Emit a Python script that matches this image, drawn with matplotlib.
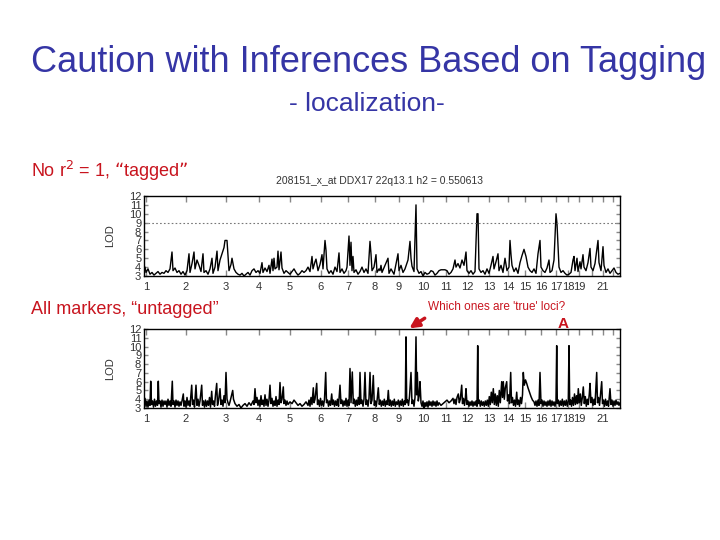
import matplotlib
matplotlib.use("Agg")
import matplotlib.pyplot as plt

plt.rcParams['font.family'] = ['Liberation Sans', 'DejaVu Sans']

# ---------------- data ----------------
chrom_labels = ['1', '2', '3', '4', '5', '6', '7', '8', '9', '10', '11', '12', '13',
                '14', '15', '16', '17', '18', '19', '', '21', '']
chrom_pos = [2, 41.7, 82, 115, 146, 176.7, 204, 231, 255, 279, 301.7, 323.7, 345,
             364, 381, 397, 412, 424, 435, 447.7, 458.7, 469]
lod_ticks = [3, 4, 5, 6, 7, 8, 9, 10, 11, 12]
threshold = 9

top_pos = [0, 1, 2, 4, 6, 8, 10, 12, 14, 16, 18, 20, 22, 24, 26, 28, 29, 31, 33, 35, 37, 39,
           41, 43, 45, 46, 48, 50, 51, 53, 55, 57, 59, 60, 62, 64, 66, 68, 69, 71, 73, 74, 76, 78, 80, 81, 83,
           84, 85, 87, 88, 90, 92, 94, 96, 98, 100, 102, 104, 106, 108, 110, 112,
           114, 116, 118, 119, 121, 123, 125, 126, 128, 129, 130, 131, 133, 134, 135, 137, 138, 140, 142, 144,
           146, 148, 150, 152, 154, 156, 158, 160, 162, 164, 166, 168, 169, 171, 172, 174,
           176, 178, 179, 181, 182, 183, 185, 187, 189, 191, 193, 195, 196, 198, 200, 202,
           203, 205, 206, 207, 208, 209, 210, 212, 214, 216, 218, 220, 222, 224, 226, 227, 228, 230, 232, 233, 235,
           236, 237, 238, 244, 245, 247, 250, 254, 255, 257, 259, 261, 264, 266, 267, 268, 270, 272, 273, 275,
           277, 279, 281, 283, 285, 287, 289, 291, 293, 295, 297, 299, 301, 303, 305, 307, 309, 311, 312, 314,
           316, 318, 320, 322, 323, 325, 327, 329, 331, 333, 334, 335, 337, 339, 341, 343, 345, 347, 349, 350,
           352, 354, 355, 357, 359, 361, 363, 365, 366, 367, 368, 370, 372, 374, 376, 378, 380, 382, 384, 386,
           388, 390, 392, 394, 396, 397, 399, 401, 403, 405, 406, 408, 410, 412, 413, 414, 415, 417, 419, 421,
           423, 425, 427, 429, 430, 431, 433, 434, 436, 437, 439, 440, 442, 444, 446, 447, 449, 451, 454, 455,
           457, 459, 460, 462, 464, 466, 468, 470, 472, 474, 476]
top_lod = [3.6, 4.0, 3.4, 3.8, 3.2, 3.4, 3.1, 3.3, 3.5, 3.2, 3.4, 3.3, 3.6, 3.4, 3.8, 5.7, 3.6, 3.9, 3.4, 3.6, 3.2, 3.5,
           3.1, 3.6, 5.5, 3.4, 4.4, 5.7, 3.8, 4.8, 4.2, 3.5, 5.5, 3.4, 3.6, 3.2, 3.8, 5.0, 3.3, 4.0, 5.8, 3.6, 4.8, 5.5, 6.2, 7.0, 7.0,
           5.2, 3.6, 4.3, 5.0, 3.8, 3.4, 3.2, 3.1, 3.3, 3.0, 3.2, 3.4, 3.1, 3.6, 3.8, 3.4,
           3.6, 3.3, 4.5, 3.4, 3.9, 3.5, 4.2, 3.3, 4.9, 3.6, 5.0, 3.8, 4.0, 5.8, 3.7, 5.7, 3.9, 3.3, 3.6, 3.4,
           3.2, 3.5, 3.8, 3.4, 3.1, 3.3, 3.6, 3.4, 3.6, 4.0, 3.5, 5.2, 3.8, 4.6, 4.9, 3.6,
           4.3, 5.4, 3.8, 7.0, 5.9, 3.8, 3.3, 3.6, 3.2, 4.0, 3.5, 5.6, 3.4, 3.8, 3.3, 3.6,
           4.0, 7.5, 4.2, 6.8, 3.6, 5.2, 3.4, 3.7, 3.2, 3.5, 4.0, 3.4, 3.8, 3.3, 6.9, 5.5, 3.6, 4.0, 5.4, 3.4, 3.8,
           3.6, 4.2, 3.4, 5.0, 3.3, 3.8, 3.2, 5.5, 3.6, 4.2, 3.4, 3.8, 4.8, 6.9, 5.0, 4.1, 3.5, 11.0, 3.8, 3.3,
           3.5, 3.0, 3.4, 3.2, 3.3, 3.6, 3.5, 3.1, 3.3, 3.6, 3.7, 3.7, 3.7, 3.6, 3.2, 3.4, 3.8, 4.8, 4.0, 4.4,
           3.9, 4.8, 4.2, 5.7, 3.6, 3.3, 3.6, 3.2, 3.5, 10.0, 10.0, 3.8, 3.4, 3.6, 3.2, 3.8, 3.3, 4.2, 5.2, 3.8,
           4.6, 5.5, 3.6, 4.2, 3.4, 5.0, 3.6, 4.0, 7.0, 5.4, 4.2, 3.5, 3.9, 3.3, 4.5, 5.3, 6.0, 5.2, 4.0, 3.6,
           3.4, 3.8, 3.3, 5.5, 7.0, 4.0, 3.6, 3.4, 3.9, 4.8, 3.4, 3.6, 4.8, 10.0, 8.9, 6.5, 4.0, 3.4, 3.6, 3.3,
           3.1, 3.2, 3.4, 4.8, 5.2, 3.6, 5.0, 3.5, 4.6, 3.8, 5.4, 4.0, 3.6, 4.5, 6.1, 4.0, 3.6, 4.4, 7.0, 4.5,
           3.6, 6.3, 4.2, 3.4, 3.8, 3.3, 3.6, 3.9, 3.4, 3.2, 3.3]

bottom_pos = [0, 1, 2, 3, 4, 5, 6, 6.7, 7.5, 8.5, 9.5, 10.5, 11.5, 12.5, 13.5, 14.3, 15, 16, 17, 18, 19, 20,
              21, 22, 23, 24, 25, 26, 27, 28.3, 29, 30, 31, 32, 33, 34, 35, 36, 37, 38, 39.3, 40, 41, 42, 43,
              44, 45, 46, 47.7, 48.5, 49.5, 50.5, 52, 53, 54, 55, 56, 57.7, 58.5, 59.5, 60.5, 61.5, 62.5, 63.5,
              64.5, 65.5, 66.5, 67.7, 68.5, 69.5, 70.5, 71.5, 72.7, 73.5, 74.5, 76, 77, 78, 79, 80, 81, 82, 83,
              84, 85, 86, 87, 88.7, 89.5, 91, 93, 95, 97, 99, 101, 103, 105, 107, 109, 110, 111, 112, 113, 114,
              115, 116, 117, 118, 119, 120, 121, 122, 123, 124, 125, 126, 127, 128, 129, 130, 131, 132, 133,
              134, 135, 136, 137, 138, 139.3, 140, 141, 142, 143, 144, 146, 148, 150, 152, 154, 156, 158, 160,
              162, 164, 165, 166, 167, 168, 169.3, 170, 171, 172.7, 173.5, 174.5, 175.5, 176.5, 177.5, 178.5,
              179.5, 180.5, 181.7, 182.5, 183.5, 184.5, 185.5, 186.5, 187.7, 188.5, 189.5, 190.5, 191.5, 192.5,
              193.5, 194.5, 196, 197, 198, 199, 200, 201, 202, 203, 204, 205, 206, 207, 208.3, 209.3, 210.3,
              211.3, 212.3, 213.3, 214.3, 215.3, 216, 217, 218, 219, 220, 221, 222, 223, 224, 225, 226, 227, 228,
              229.3, 230.3, 231.3, 232.3, 233.3, 234.3, 235.3, 236.3, 237.3, 238.3, 239.3, 240.3, 241.3, 242.3,
              243.3, 244.3, 245.3, 246.3, 247.3, 248.3, 249.3, 250.3, 251.3, 252.3, 253.3, 254.3, 255.3, 256.3,
              257.3, 258.3, 259.3, 260.3, 261.3, 262, 262.7, 263.5, 264.5, 265.5, 267, 268, 269, 270, 271, 272,
              272.7, 273.3, 274.3, 275.3, 276, 277, 278, 279, 280, 281, 282, 283, 284, 285, 286, 287, 288, 289,
              290, 291, 292, 293, 294, 295, 297, 299, 301, 303, 305, 307, 309, 310, 311, 312, 313, 314.3, 315.3,
              316.3, 317.7, 318.5, 319.5, 320.5, 321.3, 322, 323, 324, 325, 326, 327, 328, 329, 330, 331, 332,
              333, 333.7, 334.3, 335.3, 336.3, 337.3, 338.3, 339.3, 340.3, 341.3, 342.3, 343.3, 344.3, 345.3,
              346.3, 347.3, 348.3, 349.3, 350.3, 351.3, 352.3, 353.3, 354.3, 355.3, 356.3, 357.7, 358.5, 359.3,
              360.3, 361.3, 362.7, 363.5, 364.5, 365.5, 366.7, 367.5, 368.5, 369.5, 370.5, 371.5, 372.7, 373.5,
              374.5, 375.5, 376.5, 377.5, 378.5, 379.3, 380.3, 381.5, 382.7, 384, 385.5, 387, 388.5, 390, 391,
              392, 393, 394, 395, 396, 397, 398, 399, 400, 401, 402, 403, 404, 405, 406, 407, 408, 409, 410, 411,
              412, 412.7, 413.3, 414.3, 415.3, 416.3, 417.3, 418.3, 419.3, 420.3, 421.3, 422.3, 423.3, 424.3,
              425, 425.7, 426.5, 427.5, 428.5, 429.5, 430.5, 431.5, 432.5, 433.5, 434.3, 435.3, 436.3, 437.3,
              438.3, 439.3, 440.3, 441.3, 442.3, 443.3, 444.3, 445.3, 446, 447, 448, 449, 450, 451, 452.7, 453.5,
              454.5, 455.5, 456.5, 457.7, 458.5, 459.5, 460.5, 461.5, 462.5, 463.5, 464.5, 466, 467, 468, 469,
              470, 471, 472, 473, 474, 475, 476]
bottom_lod = [3.3, 4.1, 3.2, 3.8, 3.1, 3.9, 3.3, 6.05, 3.4, 3.8, 3.1, 4.0, 3.2, 3.8, 3.3, 6.05, 3.5, 3.8, 3.1, 3.9, 3.2, 3.8,
              3.4, 3.8, 3.1, 4.0, 3.3, 3.8, 3.2, 6.05, 3.4, 3.8, 3.1, 3.9, 3.3, 3.8, 3.2, 3.7, 3.3, 3.8, 4.6, 3.2, 3.8, 3.1, 4.2,
              3.3, 3.8, 3.2, 5.6, 3.4, 3.9, 3.1, 5.6, 3.3, 4.0, 3.2, 3.8, 5.6, 3.3, 3.8, 3.1, 3.9, 3.2, 3.8,
              3.3, 4.2, 3.1, 4.9, 3.4, 3.8, 3.2, 4.5, 5.8, 3.3, 3.8, 5.2, 3.4, 3.9, 3.2, 4.4, 3.6, 7.05, 4.0,
              3.6, 3.3, 3.7, 4.2, 5.0, 4.0, 3.5, 3.2, 3.4, 3.0, 3.3, 3.5, 3.2, 3.6, 3.3, 3.8, 3.4, 5.2, 3.6, 4.2, 3.3,
              3.9, 3.2, 4.4, 3.4, 3.9, 3.2, 4.5, 3.3, 4.0, 3.2, 3.9, 5.6, 3.5, 4.1, 3.2, 3.8, 3.3, 4.3, 3.2,
              3.9, 3.4, 5.9, 3.6, 4.0, 5.4, 3.5, 3.9, 3.3, 3.8, 3.4, 3.7, 3.5, 3.9, 3.6, 3.3, 3.5, 3.2, 3.4,
              3.7, 3.3, 3.9, 3.2, 4.2, 3.4, 5.3, 3.6, 4.0, 5.8, 3.4, 3.9, 3.2, 4.1, 3.3, 3.8,
              3.2, 4.0, 7.05, 3.6, 3.9, 3.2, 3.8, 3.3, 4.6, 3.4, 3.9, 3.2, 3.8, 3.3,
              4.0, 3.2, 5.6, 3.5, 3.9, 3.2, 3.8, 3.3, 4.1, 3.2, 3.9, 3.3, 7.5, 3.6, 7.1, 3.5, 4.0,
              3.2, 3.9, 3.3, 4.2, 3.4, 7.05, 3.5, 3.9, 3.2, 4.0, 7.05, 3.4, 3.9, 3.2, 4.1, 7.05, 3.5, 3.9,
              6.7, 3.3, 3.8, 3.2, 4.1, 5.3, 3.4, 3.9, 3.2, 3.8, 3.3, 4.0, 3.2, 3.8,
              3.4, 5.0, 3.3, 3.9, 3.2, 3.8, 3.3, 4.0, 3.2, 3.7, 3.4, 3.9, 3.2, 3.8,
              3.3, 4.0, 3.2, 3.8, 3.4, 11.1, 3.6, 3.9, 3.3, 4.3, 7.05, 3.5, 3.9, 3.2, 4.2, 11.1,
              4.5, 7.05, 3.8, 4.5, 6.0, 3.6, 3.2, 3.8, 2.8, 3.6, 3.2, 3.7, 3.1, 3.8, 3.3, 3.7, 3.2, 3.8,
              3.3, 3.7, 3.2, 3.8, 3.3, 3.6, 3.3, 3.5, 3.7, 3.9, 3.6, 3.8, 4.1, 3.5, 4.0, 3.4, 4.2, 4.6, 3.6,
              4.0, 5.6, 3.5, 4.1, 3.3, 4.0, 5.2, 3.4, 3.8, 3.2, 3.7, 3.3, 3.8, 3.2, 3.7, 3.3, 3.8,
              3.2, 10.1, 3.5, 3.9, 3.2, 3.8, 3.3, 3.7, 3.2, 3.8, 3.3, 3.9, 3.2, 4.3,
              3.4, 4.8, 3.6, 5.2, 3.4, 4.6, 3.3, 4.4, 3.2, 5.0, 3.6, 6.0, 4.2, 6.0,
              4.0, 5.3, 6.0, 3.8, 4.5, 3.5, 7.05, 3.6, 4.2, 3.3, 3.9, 3.2, 4.8, 3.4,
              3.9, 3.2, 4.2, 3.5, 4.5, 7.05, 5.6, 6.2, 5.8, 5.3, 4.8, 4.3, 3.9, 3.7, 3.3,
              3.8, 3.2, 3.9, 3.3, 7.05, 3.5, 3.9, 3.2, 3.8, 3.3, 3.7, 3.2, 3.8, 3.3, 3.9, 3.2, 3.8, 3.3, 3.7, 3.2,
              3.8, 10.1, 3.5, 3.9, 3.2, 3.8, 3.3, 4.0, 3.2, 3.8, 3.3, 3.9, 3.2, 3.8,
              10.1, 3.4, 3.9, 3.2, 4.2, 3.3, 4.6, 3.4, 4.4, 3.5, 5.2, 3.6, 4.6, 3.3,
              4.2, 5.4, 3.5, 4.3, 3.2, 4.0, 3.4, 4.6, 5.8, 3.6, 4.2, 3.3, 4.0, 3.4, 7.05, 3.6,
              4.2, 3.3, 4.5, 6.0, 3.5, 3.9, 3.2, 4.0, 3.3, 3.8, 3.2, 5.2, 3.4, 3.9, 3.2,
              3.8, 3.3, 3.9, 3.4, 3.7, 3.3, 3.6]

# ---------------- figure ----------------
W, H = 720, 540
fig = plt.figure(figsize=(7.2, 5.4), dpi=100)
fig.patch.set_facecolor('white')

def fx(px):
    return px / W

def fy(py):
    return 1 - py / H

title_blue = '#3535A5'
red = '#C8141E'
tick_grey = '#888888'
label_col = '#333333'

fig.text(fx(369), fy(63), 'Caution with Inferences Based on Tagging', ha='center', va='center',
         fontsize=26, color=title_blue)
fig.text(fx(367), fy(104), '- localization-', ha='center', va='center', fontsize=19, color=title_blue)
fig.text(fx(31), fy(171), 'No r$^{2}$ = 1, \u201ctagged\u201d', ha='left', va='center', fontsize=13, color=red)
fig.text(fx(31), fy(310), 'All markers, \u201cuntagged\u201d', ha='left', va='center', fontsize=13, color=red)
fig.text(fx(380), fy(181), '208151_x_at DDX17 22q13.1 h2 = 0.550613', ha='center', va='center',
         fontsize=7.5, color=label_col)
fig.text(fx(497), fy(307), "Which ones are 'true' loci?", ha='center', va='center', fontsize=8.5, color=red)


def style_axes(ax):
    ax.set_xlim(0, 476)
    ax.set_ylim(3, 12)
    ax.set_xticks(chrom_pos)
    ax.set_xticklabels(chrom_labels)
    ax.set_yticks(lod_ticks)
    ax.set_yticklabels([str(t) for t in lod_ticks])
    ax.tick_params(axis='x', direction='in', top=True, bottom=True, length=4, width=1,
                   color=tick_grey, labelsize=8, labelcolor=label_col, pad=4)
    ax.tick_params(axis='y', direction='in', left=True, right=True, length=3, width=1,
                   color=tick_grey, labelsize=8, labelcolor=label_col, pad=2)
    for s in ax.spines.values():
        s.set_color('black')
        s.set_linewidth(1.0)
    ax.set_ylabel('LOD', fontsize=8, color=label_col, labelpad=10)
    ax.set_facecolor('white')


ax1 = fig.add_axes([fx(144), fy(276), fx(476), 80 / H])
ax1.plot(top_pos, top_lod, color='black', linewidth=1.0)
ax1.axhline(threshold, color='#777777', linestyle=(0, (1.5, 2)), linewidth=0.8)
style_axes(ax1)

ax2 = fig.add_axes([fx(144), fy(408), fx(476), 79 / H])
ax2.plot(bottom_pos, bottom_lod, color='black', linewidth=1.1)
style_axes(ax2)

# red hand-drawn markers pointing at candidate loci
ax2.annotate('', xy=(263, 11.9), xytext=(283, 13.4), xycoords='data', textcoords='data',
             annotation_clip=False,
             arrowprops=dict(arrowstyle='-|>', color=red, lw=2.5, mutation_scale=14))
ax2.text(419.5, 12.55, 'A', ha='center', va='center', fontsize=11, fontweight='bold', color=red,
         clip_on=False)

fig.savefig('out.png', dpi=100, facecolor='white')
